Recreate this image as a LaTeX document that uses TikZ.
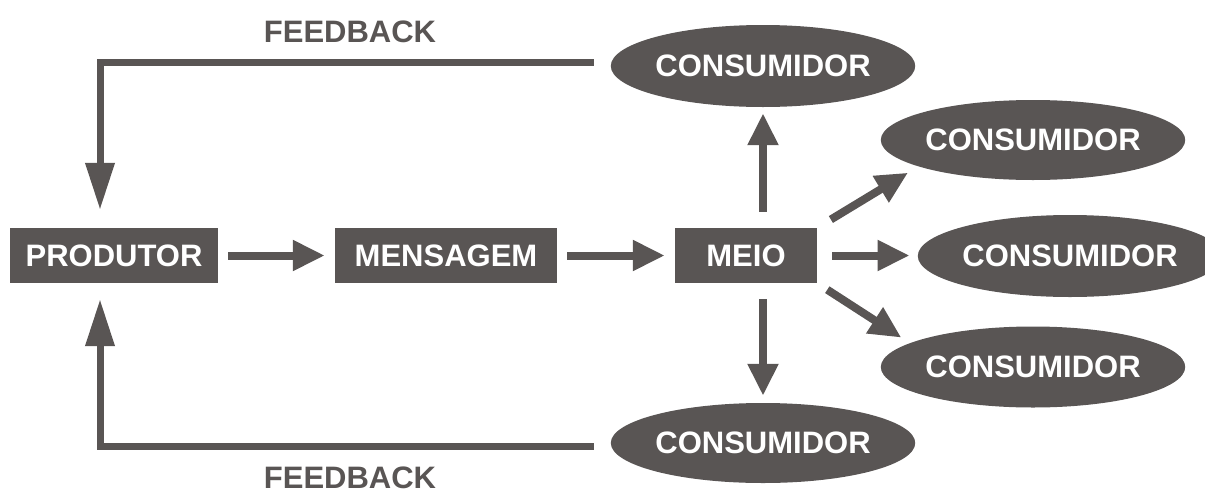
\documentclass[tikz,border=0pt]{standalone}
\usepackage{fontspec}
\setmainfont{Liberation Sans}
\usetikzlibrary{arrows.meta,shapes.geometric}
\definecolor{dg}{RGB}{89,85,84}
\tikzset{
  lbl/.style={font=\bfseries\fontsize{31}{31}\selectfont},
  boxnode/.style={lbl, fill=dg, text=white, inner sep=0pt, minimum height=55pt},
  consnode/.style={lbl, ellipse, fill=dg, text=white, inner sep=0pt, minimum width=280pt, minimum height=81pt},
  fbtext/.style={lbl, text=dg, inner sep=0pt},
  arr/.style={draw=dg, line width=8pt, -{Triangle[length=32pt,width=29pt]}},
  fbarr/.style={draw=dg, line width=7pt, -{Triangle[length=47pt,width=28pt]}}
}
\begin{document}
\begin{tikzpicture}[x=1pt,y=1pt]
\useasboundingbox (0,0) rectangle (1205,-493);
\node[boxnode, minimum width=208pt] (produtor) at (114,-255.5) {PRODUTOR};
\node[boxnode, minimum width=222pt] (mensagem) at (446,-255.5) {MENSAGEM};
\node[boxnode, minimum width=142pt] (meio) at (746,-255.5) {MEIO};
\node[consnode, minimum height=82pt] (c1) at (763,-66) {CONSUMIDOR};
\node[consnode, minimum height=80pt] (c2) at (1033,-140) {CONSUMIDOR};
\node[consnode, minimum width=268pt, minimum height=82pt] (c3) at (1070,-256) {CONSUMIDOR};
\node[consnode] (c4) at (1033,-367) {CONSUMIDOR};
\node[consnode, minimum height=80pt] (c5) at (763,-443) {CONSUMIDOR};
\node[fbtext] (fb1) at (350,-32) {FEEDBACK};
\node[fbtext] (fb2) at (350,-478) {FEEDBACK};
% main flow
\draw[arr, shorten <=10pt, shorten >=10pt] (produtor) -- (mensagem);
\draw[arr, shorten <=10pt, shorten >=10pt] (mensagem) -- (meio);
\draw[arr, shorten <=15pt, shorten >=8pt] (meio.east) -- (meio.east -| c3.west);
\draw[arr, shorten <=16pt, shorten >=6pt] (meio.north -| c1) -- (c1.south);
\draw[arr, shorten <=16pt, shorten >=7pt] (meio.south -| c5) -- (c5.north);
\draw[arr, shorten <=16pt, shorten >=12pt] (meio.north east) -- (c2.193);
\draw[arr, shorten <=12pt, shorten >=10pt] (meio.south east) -- (c4.169);
% feedback
\draw[fbarr, shorten <=17pt, shorten >=18pt] ([yshift=4pt]c1.west) -| ([xshift=-14pt]produtor.north);
\draw[fbarr, shorten <=17pt, shorten >=16pt] ([yshift=-3pt]c5.west) -| ([xshift=-14pt]produtor.south);
\end{tikzpicture}
\end{document}
